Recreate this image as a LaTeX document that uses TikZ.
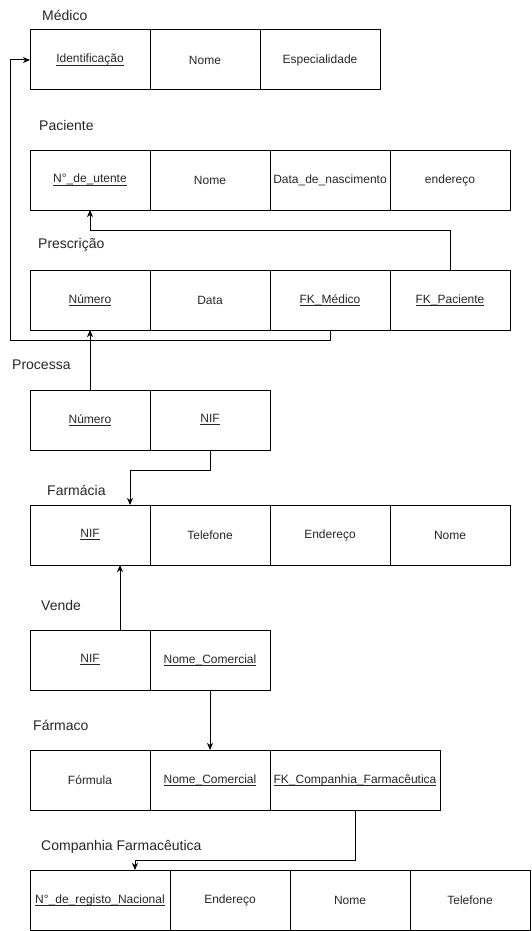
\documentclass[tikz,border=0pt]{standalone}
\usepackage{fontspec}
\setmainfont{Liberation Sans}
\usetikzlibrary{arrows.meta}
\newcommand\ulx[1]{\setbox0\hbox{#1}\rlap{\rule[-2.7pt]{\wd0}{1pt}}\box0}
\begin{document}
\begin{tikzpicture}[x=1pt,y=-1pt,
  cell/.style={draw, line width=1pt, anchor=north west, minimum height=60pt, inner sep=0pt, outer sep=0pt, text=black!85, font=\fontsize{12}{14}\selectfont},
  title/.style={anchor=west, inner sep=0pt, text=black!85, font=\fontsize{14}{16}\selectfont},
  arr/.style={line width=1pt, -{Stealth[length=7pt,width=6pt,inset=2pt]}}]
\useasboundingbox (0,0) rectangle (532,931);

% Medico
\node[title] (tmed) at (42,15) {Médico};
\node[cell, minimum width=120pt] (med1) at (30,30) {\ulx{Identificação}};
\node[cell, minimum width=110pt] (med2) at (150,30) {Nome};
\node[cell, minimum width=120pt] (med3) at (260,30) {Especialidade};

% Paciente
\node[title] (tpac) at (39,125) {Paciente};
\node[cell, minimum width=120pt] (pac1) at (30,150) {\ulx{N°\_de\_utente}};
\node[cell, minimum width=120pt] (pac2) at (150,150) {Nome};
\node[cell, minimum width=120pt] (pac3) at (270,150) {Data\_de\_nascimento};
\node[cell, minimum width=120pt] (pac4) at (390,150) {endereço};

% Prescricao
\node[title] (tprc) at (38,245) {Prescrição};
\node[cell, minimum width=120pt] (prc1) at (30,270) {\ulx{Número}};
\node[cell, minimum width=120pt] (prc2) at (150,270) {Data};
\node[cell, minimum width=120pt] (prc3) at (270,270) {\ulx{FK\_Médico}};
\node[cell, minimum width=120pt] (prc4) at (390,270) {\ulx{FK\_Paciente}};

% Processa
\node[title] (tpro) at (12,365) {Processa};
\node[cell, minimum width=120pt] (pro1) at (30,390) {\ulx{Número}};
\node[cell, minimum width=120pt] (pro2) at (150,390) {\ulx{NIF}};

% Farmacia
\node[title] (tfar) at (47,490) {Farmácia};
\node[cell, minimum width=120pt] (far1) at (30,505) {\ulx{NIF}};
\node[cell, minimum width=120pt] (far2) at (150,505) {Telefone};
\node[cell, minimum width=120pt] (far3) at (270,505) {Endereço};
\node[cell, minimum width=120pt] (far4) at (390,505) {Nome};

% Vende
\node[title] (tven) at (41,605) {Vende};
\node[cell, minimum width=120pt] (ven1) at (30,630) {\ulx{NIF}};
\node[cell, minimum width=120pt] (ven2) at (150,630) {\ulx{Nome\_Comercial}};

% Farmaco
\node[title] (tfco) at (33,725) {Fármaco};
\node[cell, minimum width=120pt] (fco1) at (30,750) {Fórmula};
\node[cell, minimum width=120pt] (fco2) at (150,750) {\ulx{Nome\_Comercial}};
\node[cell, minimum width=170pt] (fco3) at (270,750) {\ulx{FK\_Companhia\_Farmacêutica}};

% Companhia
\node[title] (tcom) at (41,847) {Companhia Farmacêutica};
\node[cell, minimum width=140pt] (com1) at (30,870) {\ulx{N°\_de\_registo\_Nacional}};
\node[cell, minimum width=120pt] (com2) at (170,870) {Endereço};
\node[cell, minimum width=120pt] (com3) at (290,870) {Nome};
\node[cell, minimum width=120pt] (com4) at (410,870) {Telefone};

% connectors
\coordinate (c1) at (10,340);
\draw[arr] (prc3.south) |- (c1) |- (med1.west);
\coordinate (c2) at (90,230);
\draw[arr] (prc4.north) |- (c2) -- (pac1.south);
\draw[arr] (pro1.north) -- (prc1.south);
\coordinate (c3) at (130,470);
\draw[arr] (pro2.south) |- (c3) -- (c3 |- far1.north);
\draw[arr] ([xshift=30pt]ven1.north) -- ([xshift=30pt]far1.south);
\draw[arr] (ven2.south) -- (fco2.north);
\coordinate (c5) at (135,860);
\draw[arr] (fco3.south) |- (c5) -- (c5 |- com1.north);
\end{tikzpicture}
\end{document}
